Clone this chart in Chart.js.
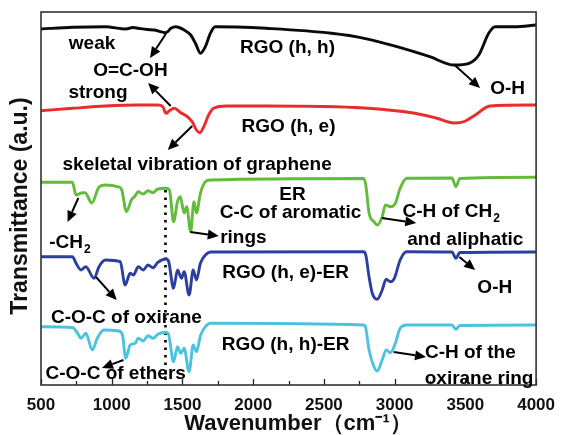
<!DOCTYPE html>
<html>
<head>
<meta charset="utf-8">
<script src="https://cdn.jsdelivr.net/npm/chart.js@4/dist/chart.umd.min.js"></script>
<style>
    body { margin: 0; background: #fff; }
</style>
</head>
<body>
<canvas id="ftirChart" width="565" height="435"></canvas>
<script>
// spectra: [wavenumber, transmittance (a.u., stacked)]
const rgoHH = [[500,356],[724,357.7],[956,358.3],[1100,356],[1150,357.5],[1188,356.7],[1250,355.5],[1303,355],[1384,352.3],[1419,356.7],
    [1453,358.3],[1512,355],[1558,350],[1592,341.7],[1627,331.7],[1662,338.3],[1697,351.7],[1731,358.3],[1882,358],
    [2090,356.7],[2553,351.7],[2785,346.7],[3016,338.3],[3248,328.3],[3421,320],[3526,321.7],[3595,330],[3665,351.7],
    [3710,358.3],[3849,358.3],[4000,360]];
const rgoHE = [[500,274.3],[724,276.7],[956,279],[1188,280],[1326,280],[1361,278.3],[1384,271.7],[1408,274.3],[1442,276.7],
    [1488,272.3],[1535,268.3],[1569,263.3],[1599,255],[1623,252.3],[1651,258.3],[1685,270],[1720,276.7],[1812,279],
    [2090,279],[2785,277],[3132,272],[3292,267],[3421,262],[3493,263.5],[3570,270],[3674,279],[4000,280]];
const er = [[500,202.7],[722,202.7],[748,190],[783,192],[812,192.3],[859,182],[910,198],[956,200],[1049,198],[1069,196],
    [1104,173.3],[1139,185],[1165,189],[1187,193.3],[1222,191],[1257,194.3],[1292,192.3],[1326,196],[1382,196.7],
    [1408,195],[1437,163.3],[1465,183.3],[1484,188.3],[1512,172],[1530,178.3],[1558,153.3],[1581,183.3],[1599,172],
    [1627,191.7],[1662,203.3],[1697,205],[2780,206.5],[2796,200],[2819,172],[2854,163.3],[2877,160],[2912,168.3],
    [2935,180],[2970,178.3],[3005,181.7],[3039,196.7],[3085,206.7],[3405,207],[3433,198.3],[3461,206.5],[4000,207.7]];
const rgoHEER = [[500,128.3],[722,128.3],[748,121.7],[783,115],[817,118.3],[875,106.7],[910,118.3],[956,125],[1060,123.3],
    [1095,100],[1130,111.7],[1153,110],[1188,118.3],[1222,115],[1257,120],[1292,117.3],[1326,122.7],[1384,126],
    [1403,123.3],[1437,96.7],[1465,115],[1493,106.7],[1512,113.3],[1547,90],[1576,115],[1599,105],[1627,121.7],
    [1662,130],[1697,133],[2780,133.3],[2796,130],[2819,108.3],[2842,91.7],[2877,85.7],[2912,95],[2940,105.7],
    [2970,103.3],[2998,106.7],[3039,125],[3085,133.3],[3405,133],[3433,126.7],[3461,132.5],[4000,133]];
const rgoHHER = [[500,58.3],[722,57.5],[759,51.7],[783,46.7],[817,51.7],[863,35],[898,46.7],[944,55],[1049,54],[1076,50],
    [1099,26.7],[1130,40],[1165,41.7],[1188,46.7],[1222,44],[1257,49.3],[1292,46.7],[1326,50.7],[1384,52.7],[1403,50],
    [1437,23.3],[1465,38.3],[1488,31.7],[1512,36.7],[1547,13.3],[1576,40],[1599,33.3],[1627,49.3],[1662,58.3],
    [1697,61.7],[2780,60],[2796,57],[2819,35],[2854,18.3],[2877,14],[2912,25],[2940,35],[2970,32.3],[3005,41.7],
    [3039,56.7],[3085,60],[3405,60],[3433,55.7],[3461,59.5],[4000,60]];
const markerLine = [[1380,195],[1380,5]];

const xTicks = [500, 1000, 1500, 2000, 2500, 3000, 3500, 4000];

// labels and arrows, placed in data units
const labels = [
    { t: 'weak', x: 861, y: 341 },
    { t: 'O=C-OH', x: 1132, y: 314 },
    { t: 'strong', x: 903, y: 292 },
    { t: 'RGO (h, h)', x: 2243, y: 337 },
    { t: 'O-H', x: 3799, y: 296 },
    { t: 'RGO (h, e)', x: 2250, y: 258 },
    { t: 'skeletal vibration of graphene', x: 1604, y: 220 },
    { t: 'ER', x: 2278, y: 190 },
    { t: 'C-C of aromatic', x: 2264, y: 172 },
    { t: 'rings', x: 1931, y: 147 },
    { t: 'C-H of CH', sub: '2', x: 3396, y: 173 },
    { t: 'and aliphatic', x: 3500, y: 145 },
    { t: '-CH', sub: '2', x: 701, y: 142 },
    { t: 'RGO (h, e)-ER', x: 2229, y: 112 },
    { t: 'O-H', x: 3708, y: 97 },
    { t: 'C-O-C of oxirane', x: 1104, y: 67 },
    { t: 'RGO (h, h)-ER', x: 2229, y: 40 },
    { t: 'C-O-C of ethers', x: 1028, y: 11 },
    { t: 'C-H of the', x: 3535, y: 32 },
    { t: 'oxirane ring', x: 3597, y: 6 }
];
const arrows = [
    [1382, 351, 1271, 327], [1417, 279, 1257, 302], [1569, 259, 1396, 235], [3424, 320, 3604, 297],
    [764, 187, 688, 163], [1556, 153, 1757, 149], [2910, 167, 3153, 162], [889, 108, 1035, 85],
    [3458, 128, 3569, 115], [1083, 25, 931, 17], [2993, 33, 3222, 28]
];

const FONT = '"Liberation Sans", Arial, sans-serif';

function series(label, pts, color) {
    return {
        label: label,
        data: pts.map(p => ({ x: p[0], y: p[1] })),
        borderColor: color,
        borderWidth: 2.9,
        pointRadius: 0,
        cubicInterpolationMode: 'monotone',
        fill: false
    };
}

const extras = {
    id: 'extras',
    afterDatasetsDraw(chart) {
        const ctx = chart.ctx;
        const xs = chart.scales.x, ys = chart.scales.y;
        const area = chart.chartArea;
        ctx.save();

        // inward ticks on the bottom axis
        ctx.strokeStyle = '#222';
        ctx.lineWidth = 1.3;
        for (let v = 500; v <= 4000; v += 250) {
            const px = Math.round(xs.getPixelForValue(v)) + 0.5;
            const len = v % 500 === 0 ? 6 : 4;
            ctx.beginPath();
            ctx.moveTo(px, area.bottom);
            ctx.lineTo(px, area.bottom - len);
            ctx.stroke();
        }

        // frame
        ctx.strokeStyle = '#333';
        ctx.lineWidth = 1.6;
        ctx.strokeRect(area.left, area.top, area.right - area.left, area.bottom - area.top);

        // axis titles, both a little off-centre in the original
        ctx.fillStyle = '#111';
        ctx.textAlign = 'center';
        ctx.textBaseline = 'middle';
        ctx.font = 'bold 22px ' + FONT;
        ctx.fillText('Wavenumber（cm⁻¹）', 298, 424);
        ctx.save();
        ctx.translate(21, 206);
        ctx.rotate(-Math.PI / 2);
        ctx.font = 'bold 23px ' + FONT;
        ctx.fillText('Transmittance (a.u.)', 0, 0);
        ctx.restore();

        // arrows
        ctx.strokeStyle = '#000';
        ctx.fillStyle = '#000';
        ctx.lineWidth = 2;
        arrows.forEach(a => {
            const x1 = xs.getPixelForValue(a[0]), y1 = ys.getPixelForValue(a[1]);
            const x2 = xs.getPixelForValue(a[2]), y2 = ys.getPixelForValue(a[3]);
            const ang = Math.atan2(y2 - y1, x2 - x1);
            const hl = 11, hw = 5;
            const bx = x2 - hl * Math.cos(ang), by = y2 - hl * Math.sin(ang);
            ctx.beginPath();
            ctx.moveTo(x1, y1);
            ctx.lineTo(bx, by);
            ctx.stroke();
            ctx.beginPath();
            ctx.moveTo(x2, y2);
            ctx.lineTo(bx + hw * Math.sin(ang), by - hw * Math.cos(ang));
            ctx.lineTo(bx - hw * Math.sin(ang), by + hw * Math.cos(ang));
            ctx.closePath();
            ctx.fill();
        });

        // text labels
        ctx.textBaseline = 'middle';
        ctx.textAlign = 'left';
        labels.forEach(l => {
            const cx = xs.getPixelForValue(l.x), cy = ys.getPixelForValue(l.y);
            ctx.font = 'bold 19px ' + FONT;
            const w = ctx.measureText(l.t).width;
            let sw = 0;
            if (l.sub) {
                ctx.font = 'bold 12px ' + FONT;
                sw = ctx.measureText(l.sub).width;
            }
            const start = cx - (w + sw) / 2;
            ctx.font = 'bold 19px ' + FONT;
            ctx.fillText(l.t, start, cy);
            if (l.sub) {
                ctx.font = 'bold 12px ' + FONT;
                ctx.fillText(l.sub, start + w + 1, cy + 7);
            }
        });
        ctx.restore();
    }
};

const ctx = document.getElementById('ftirChart');
const ftirChart = new Chart(ctx, {
    type: 'line',
    data: {
        datasets: [
            series('RGO (h, h)', rgoHH, '#0a0a0a'),
            series('RGO (h, e)', rgoHE, '#ec2b2b'),
            series('ER', er, '#63bb3c'),
            series('RGO (h, e)-ER', rgoHEER, '#2d3f9e'),
            series('RGO (h, h)-ER', rgoHHER, '#4cc3de'),
            {
                label: 'marker',
                data: markerLine.map(p => ({ x: p[0], y: p[1] })),
                borderColor: '#111',
                borderWidth: 2.8,
                borderDash: [2.5, 5],
                pointRadius: 0
            }
        ]
    },
    options: {
        responsive: false,
        animation: false,
        layout: { padding: { top: 12, right: 20, left: 0, bottom: 0 } },
        plugins: {
            legend: { display: false },
            tooltip: { enabled: false }
        },
        scales: {
            x: {
                type: 'linear',
                min: 500,
                max: 4000,
                afterFit: s => { s.height = 50; },
                afterBuildTicks: s => { s.ticks = xTicks.map(v => ({ value: v })); },
                grid: { display: false, drawTicks: false },
                border: { display: false },
                ticks: {
                    padding: 10,
                    color: '#111',
                    callback: v => String(v),
                    font: { family: FONT, size: 17, weight: 'bold' }
                },
                title: { display: false }
            },
            y: {
                min: 0,
                max: 373,
                afterFit: s => { s.width = 41; },
                grid: { display: false, drawTicks: false },
                border: { display: false },
                ticks: { display: false },
                title: { display: false }
            }
        }
    },
    plugins: [extras]
});
</script>
</body>
</html>
